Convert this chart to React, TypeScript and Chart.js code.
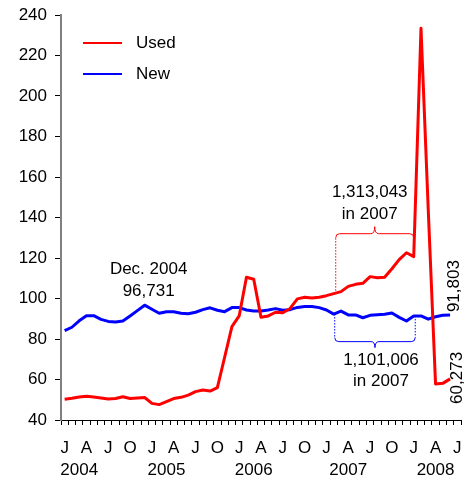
import React, { useEffect, useRef } from 'react';
import { Chart, registerables } from 'chart.js';

Chart.register(...registerables);

const FONT = '"Liberation Sans", Arial, Helvetica, sans-serif';

// Categories: monthly, Jan 2004 – Jul 2008
const years = [2004, 2005, 2006, 2007, 2008];
const monthNames = ['01', '02', '03', '04', '05', '06', '07', '08', '09', '10', '11', '12'];
const monthCount = 55;
const categories: string[] = [];
for (let i = 0; i < monthCount; i++) {
  categories.push(`${years[Math.floor(i / 12)]}-${monthNames[i % 12]}`);
}

// Tick label text
const quarterLetters: Record<number, string> = { 0: 'J', 3: 'A', 6: 'J', 9: 'O' };
const yearLabelIndex = [2, 14, 26, 39, 51];
const tickLines = categories.map((_, i) => {
  const yi = yearLabelIndex.indexOf(i);
  return [quarterLetters[i % 12] ?? '', yi >= 0 ? String(years[yi]) : ''];
});

// Series values (thousands)
const usedValues = [
  50.2, 50.7, 51.4, 51.7, 51.4, 50.9, 50.4, 50.6, 51.5, 50.6, 50.9, 51.1,
  48.2, 47.6, 49.1, 50.6, 51.2, 52.3, 54.0, 54.8, 54.3, 56.0, 71.0, 86.1,
  91.4, 110.5, 109.5, 90.7, 91.4, 93.2, 93.0, 95.1, 99.8, 100.6, 100.3, 100.6,
  101.4, 102.4, 103.4, 106.0, 107.0, 107.5, 110.8, 110.3, 110.5, 114.7, 119.2, 122.6,
  120.7, 233.5, 143.5, 57.8, 58.1, 60.3,
];
const newValues = [
  84.1, 85.8, 89.0, 91.5, 91.5, 89.7, 88.7, 88.4, 88.9, 91.4, 94.0, 96.7,
  94.7, 92.7, 93.5, 93.5, 92.7, 92.5, 93.2, 94.5, 95.4, 94.2, 93.5, 95.5,
  95.5, 94.3, 93.8, 93.8, 94.3, 95.0, 94.2, 94.5, 95.6, 96.0, 96.0, 95.5,
  94.3, 92.3, 93.8, 91.9, 91.9, 90.5, 91.7, 92.0, 92.2, 92.8, 90.7, 88.9,
  91.4, 91.4, 89.8, 91.0, 91.7, 91.8,
];

// Y axis
const yMin = 40;
const yMax = 240;
const yStep = 20;

// Annotations
const decIndex = 11;
const decNote = ['Dec. 2004', '96,731'];
const bracketStart = 37;
const bracketEnd = 48;
const usedBracketLevel = 132;
const newBracketLevel = 78.7;
const usedNote = ['1,313,043', 'in 2007'];
const newNote = ['1,101,006', 'in 2007'];
const lastNewLabel = '91,803';
const lastUsedLabel = '60,273';

function brace(
  ctx: CanvasRenderingContext2D,
  x0: number, x1: number, yLine: number, yA: number, yB: number,
  s: number, cusp: number, color: string, rightSolid: boolean
) {
  const r = 4;
  const xm = (x0 + x1) / 2;
  ctx.strokeStyle = color;
  ctx.lineWidth = 1;
  ctx.setLineDash([1.5, 1.5]);
  ctx.beginPath();
  ctx.moveTo(x0, yA);
  ctx.lineTo(x0, yLine + s * r);
  if (!rightSolid) {
    ctx.moveTo(x1, yB);
    ctx.lineTo(x1, yLine + s * r);
  }
  ctx.stroke();
  ctx.setLineDash([]);
  ctx.beginPath();
  ctx.moveTo(x0, yLine + s * r);
  ctx.quadraticCurveTo(x0, yLine, x0 + r, yLine);
  ctx.lineTo(xm - r, yLine);
  ctx.quadraticCurveTo(xm, yLine, xm, yLine - s * cusp);
  ctx.quadraticCurveTo(xm, yLine, xm + r, yLine);
  ctx.lineTo(x1 - r, yLine);
  ctx.quadraticCurveTo(x1, yLine, x1, yLine + s * r);
  if (rightSolid) ctx.lineTo(x1, yB);
  ctx.stroke();
}

const annotationPlugin = {
  id: 'annotations',
  afterDatasetsDraw(chart: any) {
    const { ctx, chartArea } = chart;
    const x = chart.scales.x;
    const y = chart.scales.y;
    ctx.save();
    ctx.font = `17px ${FONT}`;
    ctx.fillStyle = '#000';
    ctx.textAlign = 'center';
    ctx.textBaseline = 'middle';

    // Legend
    const ds = chart.data.datasets;
    ds.forEach((d: any, k: number) => {
      const ly = chartArea.top + 28 + k * 31;
      ctx.strokeStyle = d.borderColor;
      ctx.lineWidth = 2;
      ctx.beginPath();
      ctx.moveTo(chartArea.left + 22, ly);
      ctx.lineTo(chartArea.left + 61, ly);
      ctx.stroke();
      ctx.textAlign = 'left';
      ctx.fillStyle = '#000';
      ctx.fillText(d.label, chartArea.left + 75, ly);
    });
    ctx.textAlign = 'center';

    // Dec. 2004 note
    const dx = x.getPixelForValue(decIndex) + 4;
    const dy = y.getPixelForValue(newValues[decIndex]);
    ctx.fillText(decNote[0], dx, dy - 35.5);
    ctx.fillText(decNote[1], dx, dy - 14);

    // Used bracket (above)
    const ux0 = x.getPixelForValue(bracketStart) + 2;
    const ux1 = x.getPixelForValue(bracketEnd);
    const uLine = y.getPixelForValue(usedBracketLevel);
    brace(ctx, ux0, ux1, uLine, y.getPixelForValue(usedValues[bracketStart]),
      y.getPixelForValue(usedValues[bracketEnd]), 1, 7, '#FF0000', true);
    const umid = (ux0 + ux1) / 2 - 5;
    ctx.fillStyle = '#000';
    ctx.fillText(usedNote[0], umid, uLine - 41);
    ctx.fillText(usedNote[1], umid, uLine - 19.5);

    // New bracket (below)
    const nx0 = x.getPixelForValue(bracketStart) + 1;
    const nx1 = x.getPixelForValue(bracketEnd) + 1.5;
    const nLine = y.getPixelForValue(newBracketLevel);
    brace(ctx, nx0, nx1, nLine, y.getPixelForValue(newValues[bracketStart]),
      y.getPixelForValue(newValues[bracketEnd]), -1, 6, '#0000FF', false);
    const nmid = (nx0 + nx1) / 2 + 6;
    ctx.fillStyle = '#000';
    ctx.fillText(newNote[0], nmid, nLine + 19);
    ctx.fillText(newNote[1], nmid, nLine + 40);

    // Rotated end labels
    const lastN = newValues.length - 1;
    const lastU = usedValues.length - 1;
    ctx.textAlign = 'left';
    ctx.save();
    ctx.translate(x.getPixelForValue(lastN) + 4, y.getPixelForValue(newValues[lastN]) - 3);
    ctx.rotate(-Math.PI / 2);
    ctx.fillText(lastNewLabel, 0, 0);
    ctx.restore();
    ctx.save();
    ctx.translate(x.getPixelForValue(lastU) + 7, y.getPixelForValue(usedValues[lastU]) + 25);
    ctx.rotate(-Math.PI / 2);
    ctx.fillText(lastUsedLabel, 0, 0);
    ctx.restore();

    ctx.restore();
  },
};

export default function App() {
  const ref = useRef<HTMLCanvasElement>(null);
  useEffect(() => {
    if (!ref.current) return;
    const chart = new Chart(ref.current, {
      type: 'line',
      data: {
        labels: categories,
        datasets: [
          {
            label: 'Used',
            data: usedValues,
            borderColor: '#FF0000',
            backgroundColor: '#FF0000',
            borderWidth: 3,
            pointRadius: 0,
            tension: 0,
            fill: false,
            borderJoinStyle: 'round',
          },
          {
            label: 'New',
            data: newValues,
            borderColor: '#0000FF',
            backgroundColor: '#0000FF',
            borderWidth: 3,
            pointRadius: 0,
            tension: 0,
            fill: false,
            borderJoinStyle: 'round',
          },
        ],
      },
      options: {
        responsive: false,
        animation: false,
        events: [],
        layout: { autoPadding: false, padding: { top: 15, right: 7, left: 0, bottom: 0 } },
        plugins: {
          legend: { display: false },
          tooltip: { enabled: false },
          title: { display: false },
        },
        scales: {
          x: {
            type: 'category',
            offset: true,
            grid: {
              display: true,
              drawOnChartArea: false,
              drawTicks: true,
              tickLength: 5,
              color: '#000',
              lineWidth: 1,
              offset: true,
            },
            border: { display: true, color: '#000', width: 1 },
            ticks: {
              autoSkip: false,
              maxRotation: 0,
              minRotation: 0,
              padding: 13,
              color: '#000',
              font: { family: FONT, size: 17, lineHeight: 1.25 },
              callback: (_v: any, i: number) => tickLines[i],
            },
            afterFit: (s: any) => { s.height = 60; s.paddingLeft = 0; s.paddingRight = 0; },
          },
          y: {
            min: yMin,
            max: yMax,
            grid: {
              drawOnChartArea: false,
              drawTicks: true,
              tickLength: 6,
              color: '#000',
              lineWidth: 1,
            },
            border: { display: true, color: '#808080', width: 2 },
            ticks: {
              stepSize: yStep,
              padding: 8,
              color: '#000',
              font: { family: FONT, size: 17 },
            },
            afterFit: (s: any) => { s.width = 61; s.paddingTop = 0; s.paddingBottom = 0; },
          },
        },
      },
      plugins: [annotationPlugin],
    } as any);
    return () => chart.destroy();
  }, []);
  return (
    <div style={{ position: 'absolute', left: 0, top: 0, width: 468, height: 480, background: '#fff' }}>
      <canvas ref={ref} width={468} height={480} style={{ display: 'block', width: 468, height: 480 }} />
    </div>
  );
}
